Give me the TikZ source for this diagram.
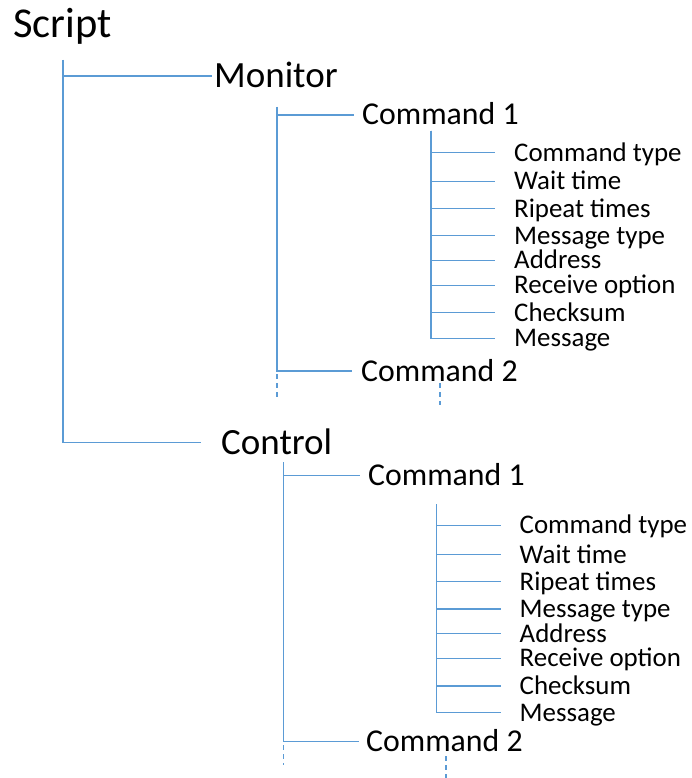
\documentclass[tikz,border=0pt]{standalone}
\usepackage{fontspec}
\setmainfont{Carlito}
\definecolor{ln}{HTML}{5B9BD5}
\begin{document}
\begin{tikzpicture}[x=1pt,y=-1pt,
  conn/.style={draw=ln, line width=1.3pt},
  dsh/.style={draw=ln, line width=1.3pt, dash pattern=on 5pt off 4pt},
  lvlzero/.style={inner sep=0pt, anchor=base west, font=\fontsize{42.5}{50}\selectfont},
  lvlone/.style={inner sep=0pt, anchor=west, text height=23.8pt, text depth=0pt, font=\fontsize{37}{44}\selectfont},
  lvltwo/.style={inner sep=0pt, anchor=west, text height=20pt, text depth=0pt, font=\fontsize{31.8}{38}\selectfont},
  lvlthree/.style={inner sep=0pt, anchor=west, text height=16.7pt, text depth=0pt, font=\fontsize{26.9}{32}\selectfont}]
\useasboundingbox (0,0) rectangle (691,778);

% root
\node[lvlzero] (script) at (13,38) {Script};
\coordinate (sT) at (63,60);
\node[lvlone] (mon) at (214,76) {Monitor};
\node[lvlone] (ctl) at (221,442.3) {Control};
\draw[conn, shorten >=2pt] (sT) |- (mon.west);
\draw[conn, shorten >=20pt] (sT) |- (ctl.west);

% Monitor branch
\coordinate (mT) at (277,107);
\node[lvltwo] (mcone) at (362,115) {Command 1};
\node[lvltwo] (mctwo) at (361,371) {Command 2};
\draw[conn, shorten >=8pt] (mT) |- (mcone.west);
\draw[conn, shorten >=9pt] (mT) |- (mctwo.west);
\coordinate (mda) at (277,374);
\coordinate (mdb) at (277,400);
\coordinate (mdc) at (440,383);
\coordinate (mdd) at (440,405);
\draw[dsh] (mda) -- (mdb);
\draw[dsh] (mdc) -- (mdd);

\coordinate (mfT) at (431,131);
\foreach \t/\y/\n in {Command type/152.7/a, Wait time/181.3/b, Ripeat times/208.7/c,
  Message type/235.7/d, Address/260.3/e, Receive option/285.3/f, Checksum/312.7/g, Message/338.3/h}{
  \node[lvlthree] (mf\n) at (514,\y) {\t};
  \draw[conn, shorten >=19pt] (mfT) |- (mf\n.west);
}

% Control branch
\coordinate (cT) at (283.5,462);
\node[lvltwo] (ccone) at (368,475.7) {Command 1};
\node[lvltwo] (cctwo) at (366,741.7) {Command 2};
\draw[conn, shorten >=8pt] (cT) |- (ccone.west);
\draw[conn, shorten >=7pt] (cT) |- (cctwo.west);
\coordinate (cda) at (283.5,745);
\coordinate (cdb) at (283.5,765);
\coordinate (cdc) at (446,756);
\coordinate (cdd) at (446,778);
\draw[dsh] (cda) -- (cdb);
\draw[dsh] (cdc) -- (cdd);

\coordinate (cfT) at (436.5,504);
\foreach \t/\y/\n in {Command type/525.3/a, Wait time/554.7/b, Ripeat times/581.7/c,
  Message type/609/d, Address/633.7/e, Receive option/658.3/f, Checksum/686/g, Message/712.7/h}{
  \node[lvlthree] (cf\n) at (519.5,\y) {\t};
  \draw[conn, shorten >=19pt] (cfT) |- (cf\n.west);
}
\end{tikzpicture}
\end{document}
